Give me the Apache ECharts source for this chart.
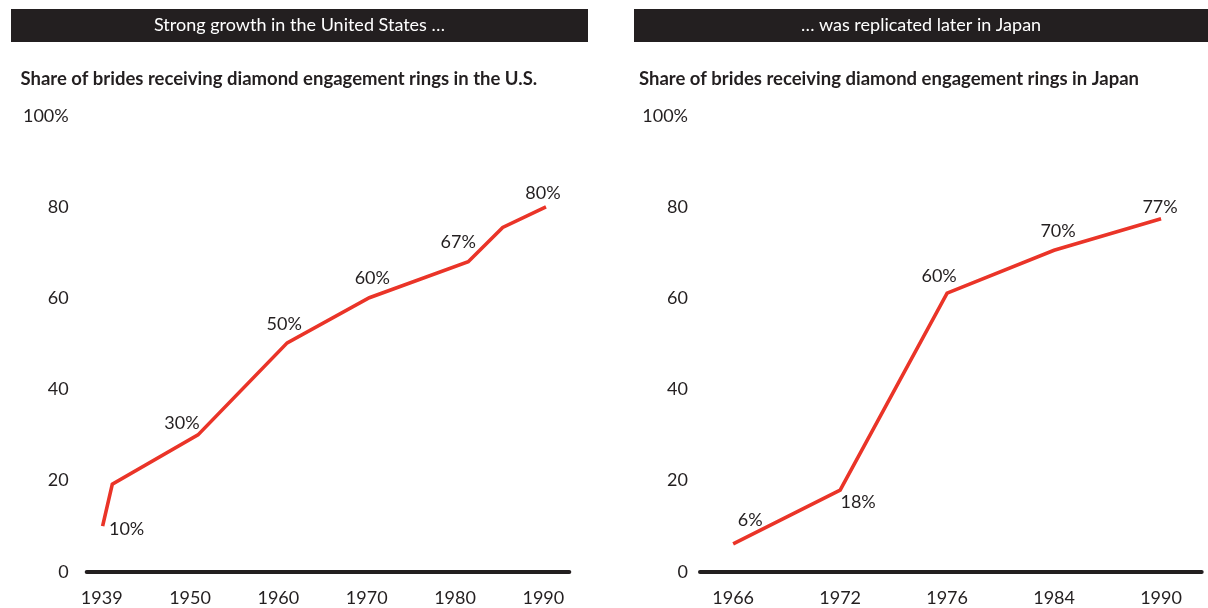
<!DOCTYPE html>
<html>
<head>
<meta charset="utf-8">
<script src="https://cdn.jsdelivr.net/npm/echarts@6/dist/echarts.min.js"></script>
<style>
  html, body { margin: 0; padding: 0; background: #ffffff; }
  #chart { width: 1208px; height: 608px; }
</style>
</head>
<body>
<div id="chart"></div>
<script>
// ---------- Data ----------
const headerTexts = ['Strong growth in the United States \u2026', '\u2026 was replicated later in Japan'];
const subtitles = ['Share of brides receiving diamond engagement rings in the U.S.',
                   'Share of brides receiving diamond engagement rings in Japan'];

// U.S. panel: evenly spaced tick slots (first slot labelled 1939)
const usTickLabels = ['1939', '1950', '1960', '1970', '1980', '1990'];
const usTickSlots  = [1940, 1950, 1960, 1970, 1980, 1990];
const usPointX     = [1940.1, 1941.2, 1950.9, 1961.0, 1970.3, 1981.5, 1985.4, 1990.3];
const usShare      = [10, 19.2, 30, 50.2, 60.1, 68, 75.5, 80];
const usPointLabels = ['10%', '', '30%', '50%', '60%', '67%', '', '80%'];

// Japan panel
const jpYears  = ['1966', '1972', '1976', '1984', '1990'];
const jpShare  = [6.1, 17.9, 61.1, 70.5, 77.4];
const jpPointLabels = ['6%', '18%', '60%', '70%', '77%'];

const yTicks = [0, 20, 40, 60, 80, 100];

// ---------- Styling ----------
const FONT = 'Lato';
const DARK = '#231f20';
const RED = '#ea3428';
const usLabelOffsets = [[24, 3], [0, 0], [-16, -12], [-3, -19], [3, -20], [-10, -20], [0, 0], [-3, -14]];
const jpLabelOffsets = [[17, -24], [18, 12], [-8, -17], [4, -19], [-1, -12]];

const chart = echarts.init(document.getElementById('chart'), null, { renderer: 'canvas' });

function yAxisCfg(gridIndex, margin) {
  return {
    type: 'value', gridIndex: gridIndex, min: 0, max: 100, interval: 20,
    axisLine: { show: false }, axisTick: { show: false }, splitLine: { show: false },
    axisLabel: {
      margin: margin, color: DARK, fontFamily: FONT, fontSize: 18,
      formatter: function (v) { return v === yTicks[yTicks.length - 1] ? v + '%' : String(v); }
    }
  };
}

function xAxisCfg(gridIndex, min, max, slots, labels) {
  return {
    type: 'value', gridIndex: gridIndex, min: min, max: max,
    splitLine: { show: false },
    axisTick: { show: false },
    axisLine: { show: true, onZero: false, lineStyle: { color: DARK, width: 4 } },
    axisLabel: {
      customValues: slots, margin: 17, color: DARK, fontFamily: FONT, fontSize: 18,
      formatter: function (v) {
        const i = slots.findIndex(function (s) { return Math.abs(s - v) < 1e-6; });
        return i >= 0 ? labels[i] : '';
      }
    }
  };
}

function lineData(xs, ys, labels, offsets) {
  return ys.map(function (y, i) {
    return {
      value: [xs[i], y],
      label: {
        show: labels[i] !== '', formatter: labels[i], position: 'inside',
        offset: offsets[i], color: DARK, fontFamily: FONT, fontSize: 18
      }
    };
  });
}

const jpSlots = jpYears.map(function (_, i) { return i; });

const option = {
  animation: false,
  backgroundColor: '#ffffff',
  grid: [
    { left: 86.7, top: 115.8, width: 482.6, height: 455.9 },
    { left: 700, top: 115.8, width: 501.7, height: 455.9 }
  ],
  xAxis: [
    xAxisCfg(0, 1938.3, 1992.94, usTickSlots, usTickLabels),
    xAxisCfg(1, -0.31, 4.38, jpSlots, jpYears)
  ],
  yAxis: [yAxisCfg(0, 18), yAxisCfg(1, 12)],
  graphic: [
    { type: 'rect', shape: { x: 11, y: 9, width: 577, height: 33 }, style: { fill: DARK }, silent: true },
    { type: 'rect', shape: { x: 634, y: 9, width: 574, height: 33 }, style: { fill: DARK }, silent: true },
    { type: 'text', x: 299.5, y: 25.5, style: { text: headerTexts[0], fill: '#ffffff', font: '18px ' + FONT, align: 'center', verticalAlign: 'middle' } },
    { type: 'text', x: 921, y: 25.5, style: { text: headerTexts[1], fill: '#ffffff', font: '18px ' + FONT, align: 'center', verticalAlign: 'middle' } },
    { type: 'text', x: 20.5, y: 79, style: { text: subtitles[0], fill: DARK, font: 'bold 18.5px ' + FONT, align: 'left', verticalAlign: 'middle' } },
    { type: 'text', x: 639, y: 79, style: { text: subtitles[1], fill: DARK, font: 'bold 18.5px ' + FONT, align: 'left', verticalAlign: 'middle' } }
  ],
  series: [
    {
      type: 'line', xAxisIndex: 0, yAxisIndex: 0,
      data: lineData(usPointX, usShare, usPointLabels, usLabelOffsets),
      showSymbol: true, symbol: 'circle', symbolSize: 0.1,
      itemStyle: { color: RED }, lineStyle: { color: RED, width: 3.6, join: 'miter' }
    },
    {
      type: 'line', xAxisIndex: 1, yAxisIndex: 1,
      data: lineData(jpSlots, jpShare, jpPointLabels, jpLabelOffsets),
      showSymbol: true, symbol: 'circle', symbolSize: 0.1,
      itemStyle: { color: RED }, lineStyle: { color: RED, width: 3.6, join: 'miter' }
    }
  ]
};
chart.setOption(option);
</script>
</body>
</html>
